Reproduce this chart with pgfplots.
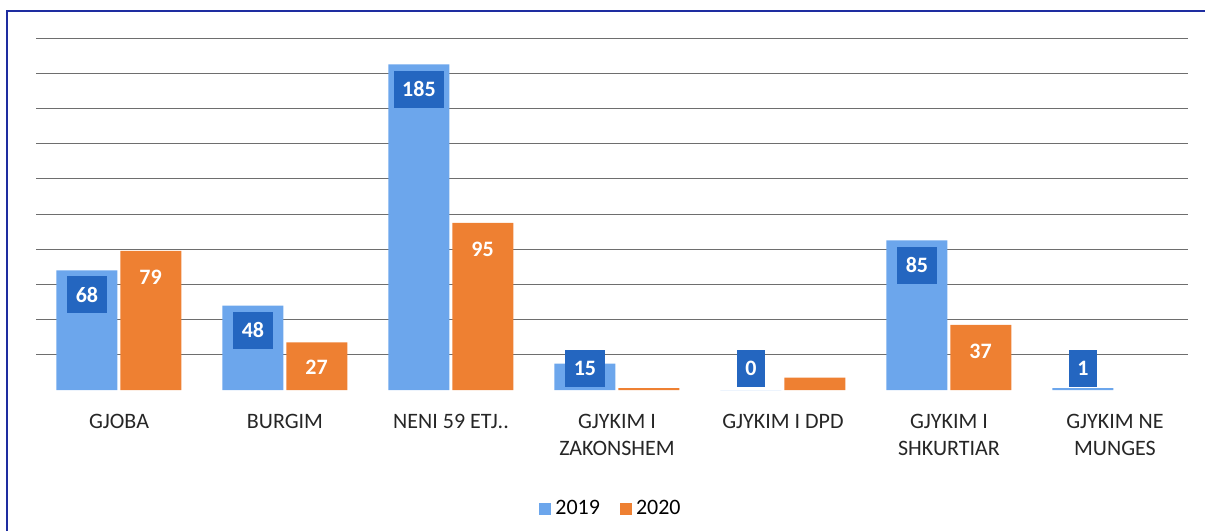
\documentclass[border=0pt]{standalone}
\usepackage{fontspec}
\setmainfont{Carlito}
\usepackage{pgfplots}
\usepackage{pgfplotstable}
\pgfplotsset{compat=1.18}
\definecolor{bluebar}{RGB}{108,166,236}
\definecolor{boxblue}{RGB}{36,102,192}
\definecolor{orangebar}{RGB}{238,128,50}
\definecolor{framecol}{RGB}{30,45,160}
\definecolor{gridcol}{RGB}{110,110,110}

\pgfplotstableread{
x y
0 68
1 48
2 185
3 15
4 0
5 85
6 1
}\dataA
\pgfplotstableread{
x y
0 79
1 27
2 95
3 1
4 7
5 37
}\dataB
\pgfplotstableread{
x y lab
-0.193 54 68
0.807 34 48
1.807 171 185
2.807 12.5 15
3.807 12.5 0
4.807 71 85
5.807 12.5 1
}\labA
\pgfplotstableread{
x y lab
0.19 64 79
1.19 13 27
2.19 80 95
5.19 22 37
}\labB

\begin{document}
\begin{tikzpicture}
\useasboundingbox (0,0) rectangle (602.5pt,265.5pt);
\draw[framecol, line width=1pt] (3.5pt,0) -- (3.5pt,260pt) -- (603pt,260pt);
\begin{axis}[
  at={(18pt,70.5pt)}, anchor=south west,
  scale only axis,
  width=576pt, height=176pt,
  xmin=-0.5, xmax=6.44,
  ymin=0, ymax=200,
  ytick={20,40,...,200},
  yticklabels={},
  ymajorgrids,
  grid style={gridcol, line width=0.5pt},
  axis line style={draw=none},
  major tick length=0pt,
  xtick={0,...,6},
  xticklabels={GJOBA, BURGIM, NENI 59 ETJ.., {GJYKIM I\\ZAKONSHEM}, GJYKIM I DPD, {GJYKIM I\\SHKURTIAR}, {GJYKIM NE\\MUNGES}},
  xticklabel style={align=center, font=\fontsize{11}{13.5}\selectfont, text=black!85, yshift=-8.5pt},
  legend style={at={(0.5,-0.338)}, anchor=center, draw=none, legend columns=2,
    font=\fontsize{11}{13}\selectfont,
    /tikz/every even column/.append style={column sep=8pt}},
  legend cell align=left,
]
\addplot[ybar, bar width=30.5pt, bar shift=-16pt, fill=bluebar, draw=none,
  legend image code/.code={\fill[bluebar] (0pt,-3pt) rectangle (6pt,3pt);}]
  table[x=x,y=y] {\dataA};
\addlegendentry{2019}
\addplot[ybar, bar width=30.5pt, bar shift=16pt, fill=orangebar, draw=none,
  legend image code/.code={\fill[orangebar] (0pt,-3pt) rectangle (6pt,3pt);}]
  table[x=x,y=y] {\dataB};
\addlegendentry{2020}
\addplot[draw=none, mark=none, forget plot, nodes near coords, point meta=explicit symbolic,
  nodes near coords align=center,
  nodes near coords style={anchor=center, fill=boxblue, text=white,
    font=\fontsize{11}{13}\selectfont\bfseries, minimum height=18.5pt, inner xsep=4.25pt}]
  table[x=x,y=y,meta=lab] {\labA};
\addplot[draw=none, mark=none, forget plot, nodes near coords, point meta=explicit symbolic,
  nodes near coords align=center,
  nodes near coords style={anchor=center, text=white,
    font=\fontsize{11}{13}\selectfont\bfseries}]
  table[x=x,y=y,meta=lab] {\labB};
\end{axis}
\end{tikzpicture}
\end{document}
